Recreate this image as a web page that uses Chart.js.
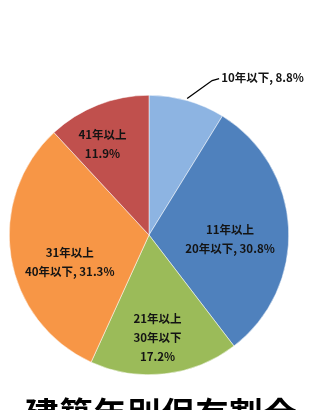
<!DOCTYPE html>
<html>
<head>
<meta charset="utf-8">
<script src="https://cdn.jsdelivr.net/npm/chart.js@4.4.1/dist/chart.umd.min.js"></script>
<style>
html, body { margin: 0; padding: 0; background: #fff; overflow: hidden; }
#wrap { position: relative; width: 323px; height: 410px; }
#title {
  position: absolute; left: 0; width: 323px; top: 396px;
  text-align: center; font: bold 33px "Noto Sans CJK JP", sans-serif;
  line-height: 1; color: #000; letter-spacing: 1px; white-space: nowrap;
}
</style>
</head>
<body>
<div id="wrap">
<canvas id="pieChart" width="323" height="410"></canvas>
<div id="title">建築年別保有割合</div>
</div>
<script>
// data
var nombres = ['10年以下', '11年以上20年以下', '21年以上30年以下', '31年以上40年以下', '41年以上'];
var valores = [8.8, 30.8, 17.2, 31.3, 11.9];
var textos = [
  ['10年以下, 8.8%'],
  ['11年以上', '20年以下, 30.8%'],
  ['21年以上', '30年以下', '17.2%'],
  ['31年以上', '40年以下, 31.3%'],
  ['41年以上', '11.9%']
];
var colores = ['#8db4e2', '#4f81bd', '#9bbb59', '#f79646', '#c0504d'];

// label distance from centre (fraction of radius), 0 = outside with leader
var radios = [0, 0.58, 0.74, 0.6, 0.73];
var giros = [0, 0.1, 0.03, -0.17, -0.1];

var etiquetas = {
  id: 'etiquetas',
  afterDraw: function(chart) {
    var ctx = chart.ctx;
    var arcs = chart.getDatasetMeta(0).data;
    ctx.save();
    ctx.font = 'bold 11.5px "Noto Sans CJK JP", sans-serif';
    ctx.fillStyle = '#141414';
    ctx.textBaseline = 'middle';
    for (var i = 0; i < arcs.length; i++) {
      var p = arcs[i].getProps(['x', 'y', 'startAngle', 'endAngle', 'outerRadius'], true);
      var mid = (p.startAngle + p.endAngle) / 2 + giros[i];
      if (radios[i] == 0) {
        var x0 = p.x + Math.cos(mid) * p.outerRadius;
        var y0 = p.y + Math.sin(mid) * p.outerRadius;
        ctx.strokeStyle = '#000';
        ctx.lineWidth = 1.3;
        ctx.beginPath();
        ctx.moveTo(x0, y0 - 2);
        ctx.lineTo(x0 + 25, y0 - 20);
        ctx.lineTo(x0 + 32, y0 - 22);
        ctx.stroke();
        ctx.textAlign = 'left';
        ctx.fillText(textos[i][0], x0 + 34, y0 - 23);
        continue;
      }
      var r = p.outerRadius * radios[i];
      var cx = p.x + Math.cos(mid) * r;
      var cy = p.y + Math.sin(mid) * r;
      var n = textos[i].length;
      ctx.textAlign = 'center';
      for (var k = 0; k < n; k++) {
        ctx.fillText(textos[i][k], cx, cy + (k - (n - 1) / 2) * 19);
      }
    }
    ctx.restore();
  }
};

var pie = document.getElementById('pieChart').getContext('2d');
var miPie = new Chart(pie, {
  type: 'pie',
  data: {
    labels: nombres,
    datasets: [{
      data: valores,
      backgroundColor: colores,
      borderColor: '#ffffff',
      borderWidth: 0.5
    }]
  },
  options: {
    responsive: false,
    animation: false,
    layout: { padding: { left: 9, right: 34, top: 95, bottom: 35 } },
    plugins: {
      legend: { display: false },
      tooltip: { enabled: false }
    }
  },
  plugins: [etiquetas]
});
</script>
</body>
</html>
